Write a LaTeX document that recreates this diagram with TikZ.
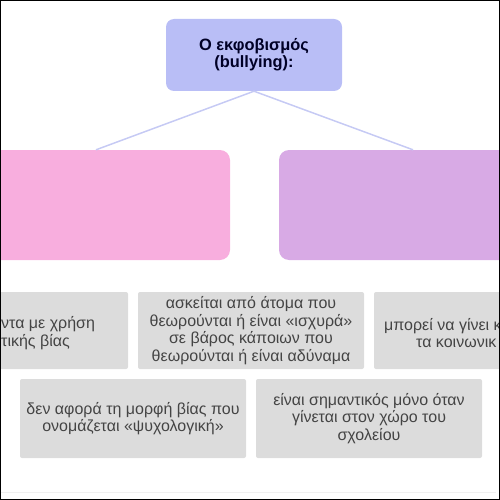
\documentclass[tikz,border=0pt]{standalone}
\usepackage{fontspec}
\setmainfont{Liberation Sans}
\usepackage{tikz}

\definecolor{topfill}{HTML}{B9BEF6}
\definecolor{pinkfill}{HTML}{F8AEDE}
\definecolor{lilacfill}{HTML}{D8AAE5}
\definecolor{cardfill}{HTML}{DCDCDC}
\definecolor{cardtext}{HTML}{444444}
\definecolor{linkcol}{HTML}{C6CAF4}

\begin{document}
\begin{tikzpicture}[x=1pt,y=-1pt,
    every node/.style={font=\fontsize{16}{17.7}\selectfont},
    headbox/.style={fill=topfill,rounded corners=8pt,minimum width=176pt,
      minimum height=72pt,align=center,text=black!85!blue,font=\bfseries\fontsize{16.4}{17}\selectfont},
    branchbox/.style={rounded corners=10pt,minimum width=268pt,minimum height=110pt},
    card/.style={fill=cardfill,rounded corners=2pt,minimum width=226pt,
      align=center,text=cardtext,inner sep=0pt},
    link/.style={draw=linkcol,line width=1.5pt}]
  % the page is 500 by 500, y runs downward
  \useasboundingbox (0,0) rectangle (500,500);
  \begin{scope}
    \clip (0,0) rectangle (500,500);
    \node[headbox] (head) at (254,55) {Ο εκφοβισμός\\(bullying):};
    \node[branchbox,fill=pinkfill] (pink) at (96,205) {};
    \node[branchbox,fill=lilacfill] (lilac) at (413,205) {};
    \draw[link] (head.south) -- (pink.north);
    \draw[link] (head.south) -- (lilac.north);
    % first row of cards
    \node[card,minimum height=77pt] (cardA) at (15,330.5) {};
    \node[card,minimum height=77pt] (cardB) at (251,330.5)
      {ασκείται από άτομα που\\θεωρούνται ή είναι «ισχυρά»\\σε βάρος κάποιων που\\θεωρούνται ή είναι αδύναμα};
    \node[card,minimum height=77pt] (cardC) at (487,330.5) {};
    \node[anchor=west,align=left,inner sep=0pt,text=cardtext] (textA) at (1,333)
      {ντα με χρήση\\τικής βίας};
    \node[anchor=west,align=left,inner sep=0pt,text=cardtext] (textC) at (384,333)
      {μπορεί να γίνει κ\\\hspace*{32pt}τα κοινωνικ};
    % second row of cards
    \node[card,minimum height=79pt] (cardD) at (133,418.5)
      {δεν αφορά τη μορφή βίας που\\ονομάζεται «ψυχολογική»};
    \node[card,minimum height=79pt] (cardE) at (369,418.5)
      {είναι σημαντικός μόνο όταν\\γίνεται στον χώρο του\\σχολείου};
    \draw[black!6,line width=1pt] (0,492) -- (496,492);
  \end{scope}
  \draw[black,line width=2pt] (0,0) rectangle (500,500);
\end{tikzpicture}
\end{document}
